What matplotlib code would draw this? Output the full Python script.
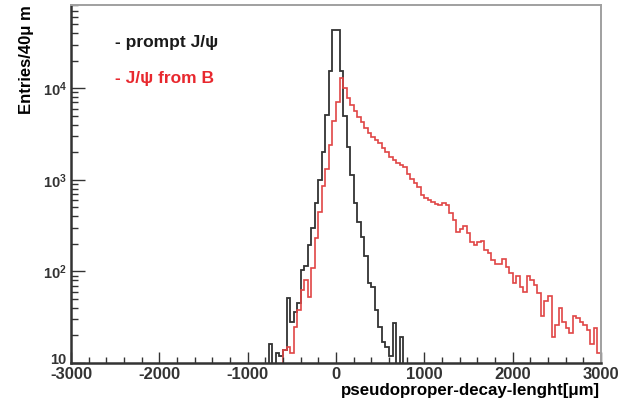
import numpy as np
import matplotlib
matplotlib.use("Agg")
import matplotlib.pyplot as plt
from matplotlib.ticker import FixedLocator, LogLocator, NullFormatter
from matplotlib.transforms import ScaledTranslation

plt.rcParams['font.family'] = ['Liberation Sans', 'DejaVu Sans']
plt.rcParams['font.weight'] = 'bold'
plt.rcParams['axes.unicode_minus'] = False
plt.rcParams['mathtext.fontset'] = 'custom'
plt.rcParams['mathtext.rm'] = 'Liberation Sans:bold'
plt.rcParams['mathtext.it'] = 'Liberation Sans:bold'
plt.rcParams['mathtext.bf'] = 'Liberation Sans:bold'

# histogram binning: 40 um bins from -3000 to 3000
bin_width = 40
x_min, x_max = -3000, 3000

# prompt J/psi, bins starting at -760 um
prompt_start = -760
prompt_counts = [16, 0, 13, 12, 14, 51, 28, 36, 45, 104,
                 115, 194, 300, 560, 1000, 2000, 5100, 15300, 43000,
                 43000, 15300, 5000, 2300, 1135, 556, 350, 237, 148, 74,
                 68, 38, 25, 17, 15, 12, 27, 0, 19]

# J/psi from B, bins starting at -600 um
nonprompt_start = -600
nonprompt_counts = [14, 15, 13, 25, 38, 63, 81, 52, 110, 230,
                    450, 850, 1300, 2400, 4400,
                    7000, 12900, 10000, 7800, 6600, 5600, 4900, 4300, 3700, 3250,
                    2950, 2700, 2500, 2250, 2000, 1780, 1650, 1520, 1460, 1380,
                    1150, 1020, 930, 840, 690, 630, 605, 570, 550, 530,
                    565, 530, 430, 365, 272, 290, 310, 265, 212, 195,
                    212, 215, 172, 158, 134, 120, 120, 136, 113, 96,
                    74, 88, 68, 59, 88, 80, 71, 58, 33, 47,
                    54, 19, 26, 40, 28, 24, 21, 33, 31, 28,
                    26, 23, 16, 24, 13]

x_ticks = [-3000, -2000, -1000, 0, 1000, 2000, 3000]
y_ticks = [10, 100, 1000, 10000]
y_tick_labels = ["10", "$10^{2}$", "$10^{3}$", "$10^{4}$"]


def full_histogram(start: int, counts: list) -> np.ndarray:
    values = np.zeros((x_max - x_min) // bin_width)
    first = (start - x_min) // bin_width
    values[first:first + len(counts)] = counts
    return values


def main() -> None:
    edges = np.arange(x_min, x_max + bin_width, bin_width)
    prompt = full_histogram(prompt_start, prompt_counts)
    nonprompt = full_histogram(nonprompt_start, nonprompt_counts)

    fig = plt.figure(figsize=(6.18, 4.03), dpi=100)
    ax = fig.add_axes([71 / 618, 1 - 363 / 403, 530 / 618, 358 / 403])

    # empty bins drop below the axis floor like ROOT does
    ax.stairs(np.maximum(prompt, 1), edges, color="#333333", lw=1.3)
    ax.stairs(np.maximum(nonprompt, 1), edges, color="#e04545", lw=1.2)

    ax.set_yscale("log")
    ax.set_xlim(x_min, x_max)
    ax.set_ylim(10, 8.1e4)

    ax.xaxis.set_major_locator(FixedLocator(x_ticks))
    ax.xaxis.set_minor_locator(FixedLocator(np.arange(x_min, x_max + 1, 200)))
    ax.set_xticklabels([str(t) for t in x_ticks], fontsize=12, fontweight="bold")
    ax.yaxis.set_major_locator(FixedLocator(y_ticks))
    ax.yaxis.set_minor_locator(LogLocator(base=10, subs=np.arange(2, 10)))
    ax.yaxis.set_minor_formatter(NullFormatter())
    ax.set_yticklabels(y_tick_labels, fontsize=10.5)

    ax.tick_params(axis="both", which="both", direction="in", colors="#333333",
                   top=False, right=False)
    ax.tick_params(axis="y", which="major", length=10, width=1.0, pad=3)
    ax.tick_params(axis="y", which="minor", length=5, width=1.0)
    ax.tick_params(axis="x", which="major", length=8, width=1.0, pad=3)
    ax.tick_params(axis="x", which="minor", length=4, width=1.0)

    # lift the lowest y label a little so it sits on top of "-3000"
    bottom_label = ax.get_yticklabels()[0]
    bottom_label.set_transform(bottom_label.get_transform()
                               + ScaledTranslation(0, 3 / 72, fig.dpi_scale_trans))

    for side in ("left", "bottom"):
        ax.spines[side].set_color("#333333")
        ax.spines[side].set_linewidth(1.8)
    for side in ("top", "right"):
        ax.spines[side].set_color("#a0a0a0")
        ax.spines[side].set_linewidth(1.4)

    fig.text(27 / 618, 1 - 5 / 403, "Entries/40μ m", rotation=90,
             ha="center", va="top", fontsize=12, fontweight="bold")
    fig.text(600 / 618, 1 - 390 / 403, "pseudoproper-decay-lenght[μm]",
             ha="right", va="center", fontsize=12.2, fontweight="bold")

    fig.text(115 / 618, 1 - 43 / 403, "- prompt J/ψ", ha="left", va="center",
             fontsize=12.5, fontweight="bold", color="#1a1a1a")
    fig.text(115 / 618, 1 - 78 / 403, "- J/ψ from B", ha="left", va="center",
             fontsize=12.5, fontweight="bold", color="#e8282e")

    fig.savefig("out.png", dpi=100, facecolor="white")
    plt.close(fig)


if __name__ == '__main__':
    main()
